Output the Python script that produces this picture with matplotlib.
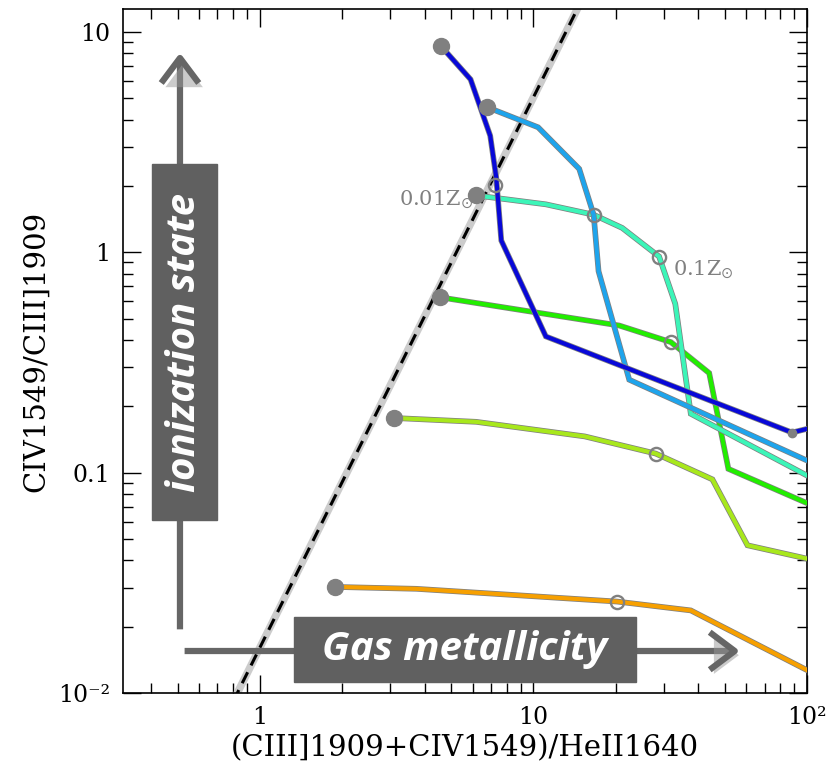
import numpy as np
import matplotlib
matplotlib.use("Agg")
import matplotlib.pyplot as plt
import matplotlib.patheffects as pe
from matplotlib.patches import FancyArrowPatch, Rectangle
from matplotlib.ticker import FixedLocator, FixedFormatter, NullFormatter

# model tracks (x = (CIII]+CIV)/HeII, y = CIV/CIII])
dblue_x = [4.58, 5.89, 6.95, 7.31, 7.63, 11.1, 88.2, 100.0]
dblue_y = [8.65, 6.09, 3.38, 2.19, 1.13, 0.415, 0.152, 0.158]

lblue_x = [6.78, 10.4, 14.7, 16.6, 17.3, 22.4, 100.0]
lblue_y = [4.55, 3.69, 2.39, 1.48, 0.82, 0.264, 0.1135]

teal_x = [6.18, 11.1, 16.6, 21.1, 28.8, 33.0, 37.6, 100.0]
teal_y = [1.81, 1.65, 1.48, 1.29, 0.956, 0.583, 0.185, 0.097]

green_x = [4.54, 20.6, 31.8, 43.9, 51.6, 100.0]
green_y = [0.625, 0.465, 0.391, 0.283, 0.104, 0.0727]

ygreen_x = [3.09, 6.18, 15.4, 28.0, 45.1, 60.6, 100.0]
ygreen_y = [0.177, 0.170, 0.146, 0.122, 0.0932, 0.0468, 0.0407]

orange_x = [1.88, 3.73, 20.2, 37.6, 100.0]
orange_y = [0.0303, 0.0297, 0.026, 0.0237, 0.0127]

# open circles (one per track)
open_x = [7.26, 16.6, 28.8, 31.8, 28.0, 20.2]
open_y = [2.02, 1.48, 0.956, 0.391, 0.122, 0.026]

# small dot on the dark blue track
dot_x = [88.2]
dot_y = [0.152]

# dividing line
div_x = [0.8, 15.0]
div_y = [0.0092, 13.9]

tracks = [
    (orange_x, orange_y, "#f7a000"),
    (ygreen_x, ygreen_y, "#a8e81c"),
    (green_x, green_y, "#22ee00"),
    (teal_x, teal_y, "#3cf5b8"),
    (lblue_x, lblue_y, "#1ea4ec"),
    (dblue_x, dblue_y, "#0808d8"),
]

fig = plt.figure(figsize=(8.32, 7.79), dpi=100)
ax = fig.add_axes([123/832, 86/779, 684/832, 684/779])
ax.set_xscale("log")
ax.set_yscale("log")
ax.set_xlim(0.316, 100)
ax.set_ylim(0.01, 12.7)

# dashed dividing line
ax.plot(div_x, div_y, color="#cccccc", lw=5.5, solid_capstyle="butt", zorder=2)
ax.plot(div_x, div_y, color="black", lw=2.2, dashes=(4, 2.5), zorder=3)

for xs, ys, c in tracks:
    ax.plot(xs, ys, color="#808080", lw=4.1, zorder=4, solid_joinstyle="miter")
    ax.plot(xs, ys, color=c, lw=3.0, zorder=4, solid_joinstyle="miter")
    ax.plot(xs[0], ys[0], "o", color="#808080", ms=11.5, zorder=6)

ax.plot(open_x, open_y, "o", mfc="none", mec="#808080", mew=1.7, ms=9.5, zorder=6)
ax.plot(dot_x, dot_y, "o", color="#808080", ms=6, zorder=6)

ax.text(6.0, 1.72, r"0.01Z$_{\odot}$", ha="right", va="center", color="#808080",
        fontsize=15, family="DejaVu Serif", zorder=7)
ax.text(32.5, 0.83, r"0.1Z$_{\odot}$", ha="left", va="center", color="#808080",
        fontsize=15, family="DejaVu Serif", zorder=7)

# ticks
ax.xaxis.set_major_locator(FixedLocator([1, 10, 100]))
ax.xaxis.set_major_formatter(FixedFormatter(["1", "10", "10²"]))
ax.yaxis.set_major_locator(FixedLocator([0.01, 0.1, 1, 10]))
ax.yaxis.set_major_formatter(FixedFormatter(["10⁻²", "0.1", "1", "10"]))
ax.xaxis.set_minor_formatter(NullFormatter())
ax.yaxis.set_minor_formatter(NullFormatter())
ax.tick_params(which="both", direction="in", top=True, right=True, width=1.0,
               labelsize=17, colors="black")
ax.tick_params(which="major", length=13, pad=9)
ax.tick_params(which="minor", length=7)
for lab in ax.get_xticklabels() + ax.get_yticklabels():
    lab.set_family("DejaVu Serif")
for s in ax.spines.values():
    s.set_linewidth(1.2)

ax.set_xlabel("(CIII]1909+CIV1549)/HeII1640", family="DejaVu Serif", fontsize=21, labelpad=4)
ax.set_ylabel("CIV1549/CIII]1909", family="DejaVu Serif", fontsize=21, labelpad=6)

# arrows and boxes
T = ax.transAxes
shadow = [pe.SimplePatchShadow(offset=(3, -3), shadow_rgbFace="#999999", alpha=0.5), pe.Normal()]
arr_kw = dict(transform=T, arrowstyle="->,head_length=0.6,head_width=0.45", mutation_scale=30,
              color="#666666", lw=4.5, capstyle="butt", joinstyle="round", zorder=8,
              path_effects=shadow)
ax.add_patch(FancyArrowPatch((0.0833, 0.089), (0.0833, 0.94), **arr_kw))
ax.add_patch(FancyArrowPatch((0.086, 0.0614), (0.906, 0.0614), **arr_kw))

ax.add_patch(Rectangle((0.0424, 0.253), 0.095, 0.52, transform=T, color="#606060", zorder=9))
ax.add_patch(Rectangle((0.25, 0.0161), 0.50, 0.095, transform=T, color="#606060", zorder=9))
ax.text(0.0899, 0.513, "ionization state", transform=T, rotation=90, ha="center", va="center",
        color="white", fontsize=29, family="Open Sans", weight="bold", style="italic", zorder=10)
ax.text(0.5, 0.0636, "Gas metallicity", transform=T, ha="center", va="center",
        color="white", fontsize=29, family="Open Sans", weight="bold", style="italic", zorder=10)

fig.savefig("out.png", dpi=100)
